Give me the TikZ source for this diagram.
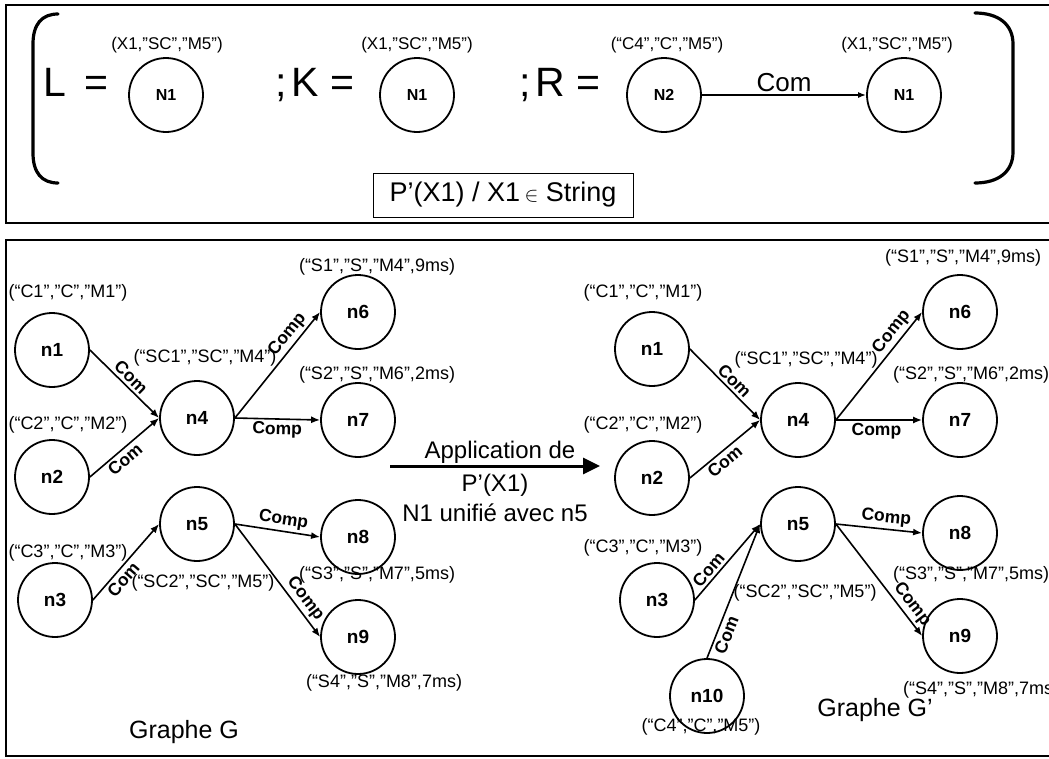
\documentclass[tikz,border=0pt]{standalone}
\usepackage{fontspec}
\setmainfont{Liberation Sans}
\usetikzlibrary{arrows.meta}
\tikzset{
  vertex/.style={circle, draw, line width=1.8pt, minimum size=74pt, inner sep=0pt, font=\fontsize{19}{22}\selectfont\bfseries},
  topvertex/.style={vertex, font=\fontsize{16}{18}\selectfont\bfseries},
  attr/.style={inner sep=0pt, font=\fontsize{18}{21}\selectfont},
  topattr/.style={inner sep=0pt, font=\fontsize{17}{20}\selectfont},
  edge/.style={line width=1.6pt, -{Latex[length=9pt,width=7pt]}},
  elab/.style={font=\fontsize{17.5}{20}\selectfont\bfseries, inner sep=2.5pt, sloped},
  bigtxt/.style={inner sep=0pt, font=\fontsize{41}{46}\selectfont},
  captxt/.style={inner sep=0pt, font=\fontsize{24}{28}\selectfont},
  frame/.style={line width=2.4pt},
  bracket/.style={line width=3.2pt, line cap=round}
}
\begin{document}
\begin{tikzpicture}[x=1pt,y=-1pt]
\useasboundingbox (0,0) rectangle (1049,758);
\clip (0,0) rectangle (1049,758);
% frames
\draw[frame] (6,5) rectangle (1070,223);
\draw[frame] (6,240) rectangle (1070,756);
% brackets
\draw[bracket] (58,14) .. controls (42,14) and (33,24) .. (33,44) -- (33,153) .. controls (33,173) and (42,183) .. (58,183);
\draw[bracket] (975,13) .. controls (998,13) and (1013,24) .. (1013,44) -- (1013,152) .. controls (1013,172) and (998,183) .. (975,183);
% top rule
\node[bigtxt, anchor=base] (Leq) at (76,96) {L\hspace{0.45em}=};
\node[topvertex] (N1a) at (166,95) {N1};
\node[topattr] (N1alab) at (167,45) {(X1,”SC”,”M5”)};
\node[bigtxt, anchor=base] (Keq) at (315,96) {;\hspace{0.12em}K =};
\node[topvertex] (N1b) at (417,95) {N1};
\node[topattr] (N1blab) at (417,45) {(X1,”SC”,”M5”)};
\node[bigtxt, anchor=base] (Req) at (560,96) {;\hspace{0.12em}R =};
\node[topvertex] (N2r) at (664,95) {N2};
\node[topattr] (N2rlab) at (667,45) {(“C4”,”C”,”M5”)};
\node[topvertex] (N1r) at (904,95) {N1};
\node[topattr] (N1rlab) at (897,45) {(X1,”SC”,”M5”)};
\draw[line width=1.3pt, -{Latex[length=8pt,width=6pt]}] (N2r) -- node[above, inner sep=3pt, font=\fontsize{26}{30}\selectfont] (comtop) {Com} (N1r);
\node[draw, line width=1pt, minimum width=260pt, minimum height=44pt, inner sep=0pt, font=\fontsize{27}{30}\selectfont] (cond) at (503,195) {P’(X1) / X1\,{\fontsize{20}{24}\selectfont$\in$} String};

% ---------- Graph G ----------
\node[vertex] (a1) at (52,350) {n1};
\node[vertex] (a2) at (52,477) {n2};
\node[vertex] (a3) at (55,600) {n3};
\node[vertex] (a4) at (197,418) {n4};
\node[vertex] (a5) at (197,524) {n5};
\node[vertex] (a6) at (358,312) {n6};
\node[vertex] (a7) at (358,420) {n7};
\node[vertex] (a8) at (358,537) {n8};
\node[vertex] (a9) at (358,637) {n9};
\node[attr] (a1l) at (68,293) {(“C1”,”C”,”M1”)};
\node[attr] (a2l) at (68,425) {(“C2”,”C”,”M2”)};
\node[attr] (a3l) at (68,553) {(“C3”,”C”,”M3”)};
\node[attr] (a4l) at (205,358) {(“SC1”,”SC”,”M4”)};
\node[attr] (a5l) at (203,583) {(“SC2”,”SC”,”M5”)};
\node[attr] (a6l) at (377,267) {(“S1”,”S”,”M4”,9ms)};
\node[attr] (a7l) at (377,375) {(“S2”,”S”,”M6”,2ms)};
\node[attr] (a8l) at (377,575) {(“S3”,”S”,”M7”,5ms)};
\node[attr] (a9l) at (384,683) {(“S4”,”S”,”M8”,7ms)};
\node[captxt, font=\fontsize{25}{29}\selectfont] (gG) at (184,732) {Graphe G};
\draw[edge] (a1.east) -- node[elab, above, pos=0.5] {Com} (a4.west);
\draw[edge] (a2.east) -- node[elab, below, pos=0.42] {Com} (a4.west);
\draw[edge] (a3.east) -- node[elab, below, pos=0.35] {Com} (a5.west);
\draw[edge] (a4.east) -- node[elab, above, pos=0.72] {Comp} (a6.west);
\draw[edge] (a4.east) -- node[elab, below, pos=0.5] {Comp} (a7.west);
\draw[edge] (a5.east) -- node[elab, above, pos=0.55] {Comp} (a8.west);
\draw[edge] (a5.east) -- node[elab, above, pos=0.72] {Comp} (a9.west);

% ---------- transformation arrow ----------
\coordinate (arrS) at (390,466);
\coordinate (arrE) at (600,466);
\draw[line width=3pt, -{Triangle[length=17pt,width=16pt]}] (arrS) -- (arrE);
\node[captxt] (app1) at (500,452) {Application de};
\node[captxt] (app2) at (495,485) {P’(X1)};
\node[captxt] (app3) at (495,513) {N1 unifié avec n5};

% ---------- Graph G' ----------
\node[vertex] (b1) at (652,349) {n1};
\node[vertex] (b2) at (652,478) {n2};
\node[vertex] (b3) at (657,600) {n3};
\node[vertex] (b4) at (798,420) {n4};
\node[vertex] (b5) at (798,524) {n5};
\node[vertex] (b6) at (960,312) {n6};
\node[vertex] (b7) at (960,420) {n7};
\node[vertex] (b8) at (960,533) {n8};
\node[vertex] (b9) at (960,636) {n9};
\node[vertex] (b10) at (707,696) {n10};
\node[attr] (b1l) at (643,293) {(“C1”,”C”,”M1”)};
\node[attr] (b2l) at (643,425) {(“C2”,”C”,”M2”)};
\node[attr] (b3l) at (643,548) {(“C3”,”C”,”M3”)};
\node[attr] (b4l) at (806,360) {(“SC1”,”SC”,”M4”)};
\node[attr] (b5l) at (805,593) {(“SC2”,”SC”,”M5”)};
\node[attr] (b6l) at (963,258) {(“S1”,”S”,”M4”,9ms)};
\node[attr] (b7l) at (971,375) {(“S2”,”S”,”M6”,2ms)};
\node[attr] (b8l) at (971,575) {(“S3”,”S”,”M7”,5ms)};
\node[attr, anchor=west] (b9l) at (903,690) {(“S4”,”S”,”M8”,7ms)};
\node[attr] (b10l) at (701,727) {(“C4”,”C”,”M5”)};
\node[captxt, font=\fontsize{25}{29}\selectfont] (gG2) at (875,710) {Graphe G’};
\draw[edge] (b1.east) -- node[elab, above, pos=0.54] {Com} (b4.west);
\draw[edge] (b2.east) -- node[elab, below, pos=0.41] {Com} (b4.west);
\draw[edge] (b3.east) -- node[elab, above, pos=0.32] {Com} (b5.west);
\draw[edge] (b10.north) -- node[elab, below, pos=0.2] {Com} (b5.west);
\draw[edge] (b4.east) -- node[elab, above, pos=0.75] {Comp} (b6.west);
\draw[edge] (b4.east) -- node[elab, below, pos=0.47] {Comp} (b7.west);
\draw[edge] (b5.east) -- node[elab, above, pos=0.57] {Comp} (b8.west);
\draw[edge] (b5.east) -- node[elab, above, pos=0.78] {Comp} (b9.west);
\end{tikzpicture}
\end{document}
